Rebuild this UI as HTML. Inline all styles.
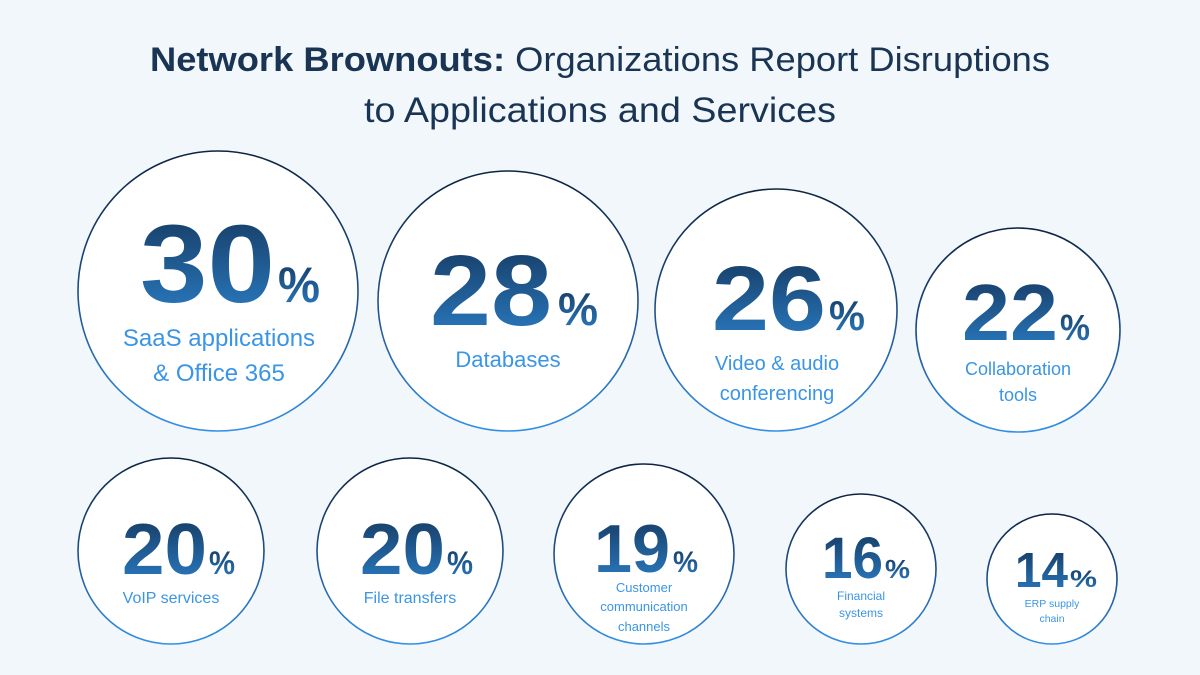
<!DOCTYPE html>
<html><head><meta charset="utf-8"><style>
html,body{margin:0;padding:0;background:#f2f7fc;}
svg{display:block;font-family:"Liberation Sans",sans-serif;}
</style></head><body>
<svg width="1200" height="675" viewBox="0 0 1200 675">
<defs>
<linearGradient id="st" x1="0" y1="0" x2="0" y2="1"><stop offset="0" stop-color="#0d2340"/><stop offset="0.5" stop-color="#1f4f86"/><stop offset="1" stop-color="#3390e6"/></linearGradient>
<linearGradient id="nf" x1="0" y1="0" x2="0" y2="1"><stop offset="0" stop-color="#15375c"/><stop offset="1" stop-color="#2b7fc8"/></linearGradient>
</defs>
<rect width="1200" height="675" fill="#f2f7fc"/>
<text x="600" y="71" text-anchor="middle" font-size="34" fill="#1a3553" textLength="900" lengthAdjust="spacingAndGlyphs"><tspan font-weight="bold">Network Brownouts:</tspan> Organizations Report Disruptions</text>
<text x="600" y="122" text-anchor="middle" font-size="35" fill="#1a3553" textLength="472" lengthAdjust="spacingAndGlyphs">to Applications and Services</text>
<g fill="#fff" stroke="url(#st)" stroke-width="1.6">
<circle cx="218" cy="291" r="140"/>
<circle cx="508" cy="301" r="130"/>
<circle cx="776" cy="310" r="121"/>
<circle cx="1018" cy="330" r="102"/>
<circle cx="171" cy="551" r="93"/>
<circle cx="410" cy="551" r="93"/>
<circle cx="644" cy="554" r="90"/>
<circle cx="861" cy="569" r="75"/>
<circle cx="1052" cy="579" r="65"/>
</g>
<g fill="url(#nf)" font-weight="bold">
<text x="140" y="302" font-size="110" textLength="135" lengthAdjust="spacingAndGlyphs">30</text>
<text x="278" y="302" font-size="50" textLength="42" lengthAdjust="spacingAndGlyphs">%</text>
<text x="430" y="325" font-size="100" textLength="122" lengthAdjust="spacingAndGlyphs">28</text>
<text x="558" y="325" font-size="46" textLength="40" lengthAdjust="spacingAndGlyphs">%</text>
<text x="712" y="330" font-size="92" textLength="114" lengthAdjust="spacingAndGlyphs">26</text>
<text x="829" y="330" font-size="42" textLength="36" lengthAdjust="spacingAndGlyphs">%</text>
<text x="962" y="340" font-size="80" textLength="96" lengthAdjust="spacingAndGlyphs">22</text>
<text x="1060" y="340" font-size="36" textLength="30" lengthAdjust="spacingAndGlyphs">%</text>
<text x="122" y="574" font-size="72" textLength="85" lengthAdjust="spacingAndGlyphs">20</text>
<text x="209" y="574" font-size="32" textLength="26" lengthAdjust="spacingAndGlyphs">%</text>
<text x="360" y="574" font-size="72" textLength="85" lengthAdjust="spacingAndGlyphs">20</text>
<text x="447" y="574" font-size="32" textLength="26" lengthAdjust="spacingAndGlyphs">%</text>
<text x="594" y="572" font-size="68" textLength="76" lengthAdjust="spacingAndGlyphs">19</text>
<text x="673" y="572" font-size="30" textLength="25" lengthAdjust="spacingAndGlyphs">%</text>
<text x="822" y="578" font-size="58" textLength="61" lengthAdjust="spacingAndGlyphs">16</text>
<text x="885" y="578" font-size="26" textLength="25" lengthAdjust="spacingAndGlyphs">%</text>
<text x="1015" y="587" font-size="49" textLength="53" lengthAdjust="spacingAndGlyphs">14</text>
<text x="1070" y="587" font-size="24" textLength="27" lengthAdjust="spacingAndGlyphs">%</text>
</g>
<g fill="#3a95e6" text-anchor="middle">
<text x="219" y="346" font-size="24">SaaS applications</text>
<text x="219" y="381" font-size="24">&amp; Office 365</text>
<text x="508" y="367" font-size="22">Databases</text>
<text x="777" y="370" font-size="20">Video &amp; audio</text>
<text x="777" y="400" font-size="20">conferencing</text>
<text x="1018" y="375" font-size="18">Collaboration</text>
<text x="1018" y="401" font-size="18">tools</text>
<text x="171" y="603" font-size="16">VoIP services</text>
<text x="410" y="603" font-size="16">File transfers</text>
<text x="644" y="592" font-size="13">Customer</text>
<text x="644" y="611" font-size="13">communication</text>
<text x="644" y="631" font-size="13">channels</text>
<text x="861" y="600" font-size="12">Financial</text>
<text x="861" y="617" font-size="12">systems</text>
<text x="1052" y="607" font-size="10.5">ERP supply</text>
<text x="1052" y="622" font-size="10.5">chain</text>
</g>
</svg>
</body></html>
